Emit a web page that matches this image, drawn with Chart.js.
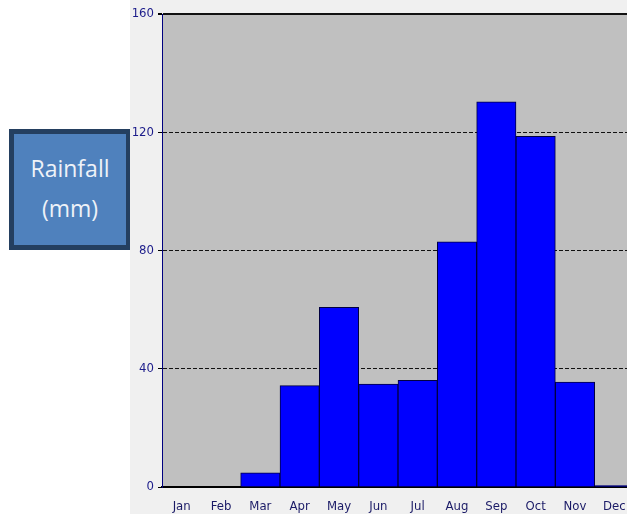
<!DOCTYPE html>
<html>
<head>
<meta charset="utf-8">
<script src="https://cdn.jsdelivr.net/npm/chart.js@4"></script>
<style>
  html, body { margin: 0; padding: 0; background: #ffffff; width: 627px; height: 514px; overflow: hidden; }
  #wrap { position: absolute; left: 130px; top: 0; width: 504px; height: 514px; background: #f0f0f0; }
  #label-box {
    position: absolute; left: 9px; top: 129px; width: 112px; height: 97px;
    background: #4f81bd; border: 5px solid #243f60;
    color: #eef2f8; font-family: "Open Sans", sans-serif; font-size: 23px;
    line-height: 40px; text-align: center; padding-top: 14px;
  }
</style>
</head>
<body>
<div id="label-box">Rainfall<br>(mm)</div>
<div id="wrap"><canvas id="rainChart" width="504" height="514"></canvas></div>
<script>
// Rainfall by month
const months = ['Jan', 'Feb', 'Mar', 'Apr', 'May', 'Jun', 'Jul', 'Aug', 'Sep', 'Oct', 'Nov', 'Dec'];
const rainfall = [0, 0, 4.8, 34.3, 60.8, 34.8, 36.1, 82.9, 130.3, 118.6, 35.5, 0.5];
const yTicks = [0, 40, 80, 120, 160];

const tickFont = { family: '"Liberation Sans Narrow", "DejaVu Sans Condensed", sans-serif', size: 13 };

const ctx = document.getElementById('rainChart').getContext('2d');

new Chart(ctx, {
    type: 'bar',
    data: {
        labels: months,
        datasets: [{
            label: 'Rainfall',
            data: rainfall,
            backgroundColor: '#0000ff',
            borderColor: '#000040',
            borderWidth: 1,
            borderSkipped: 'bottom',
            categoryPercentage: 1,
            barPercentage: 1
        }]
    },
    options: {
        responsive: false,
        animation: false,
        devicePixelRatio: 1,
        layout: { padding: { top: 14, left: 0, right: 0, bottom: 0 } },
        plugins: {
            legend: { display: false },
            tooltip: { enabled: false }
        },
        scales: {
            x: {
                grid: { display: false },
                border: { display: true, color: '#000000', width: 2 },
                ticks: {
                    color: '#1a1a66',
                    padding: 4,
                    font: tickFont
                },
                afterFit: scale => { scale.height = 27; }
            },
            y: {
                min: 0,
                max: 160,
                afterBuildTicks: scale => { scale.ticks = yTicks.map(v => ({ value: v })); },
                grid: {
                    color: c => (c.tick && c.tick.value === 0) ? 'rgba(0,0,0,0)' : '#111111',
                    lineWidth: c => (c.tick && c.tick.value === 160) ? 2 : 1,
                    tickColor: '#000000',
                    tickLength: 4,
                    tickBorderDash: [],
                    drawTicks: true
                },
                border: {
                    display: true,
                    color: '#000080',
                    width: 1,
                    dash: c => (c.tick && c.tick.value === 160) ? [] : [4, 2]
                },
                ticks: {
                    color: '#1c1c8a',
                    padding: 4,
                    font: tickFont
                },
                afterFit: scale => { scale.width = 32; }
            }
        }
    },
    plugins: [{
        id: 'plotBg',
        beforeDraw(chart) {
            const a = chart.chartArea;
            chart.ctx.save();
            chart.ctx.fillStyle = '#c0c0c0';
            chart.ctx.fillRect(a.left, a.top, a.right - a.left, a.bottom - a.top);
            chart.ctx.restore();
        }
    }]
});
</script>
</body>
</html>
